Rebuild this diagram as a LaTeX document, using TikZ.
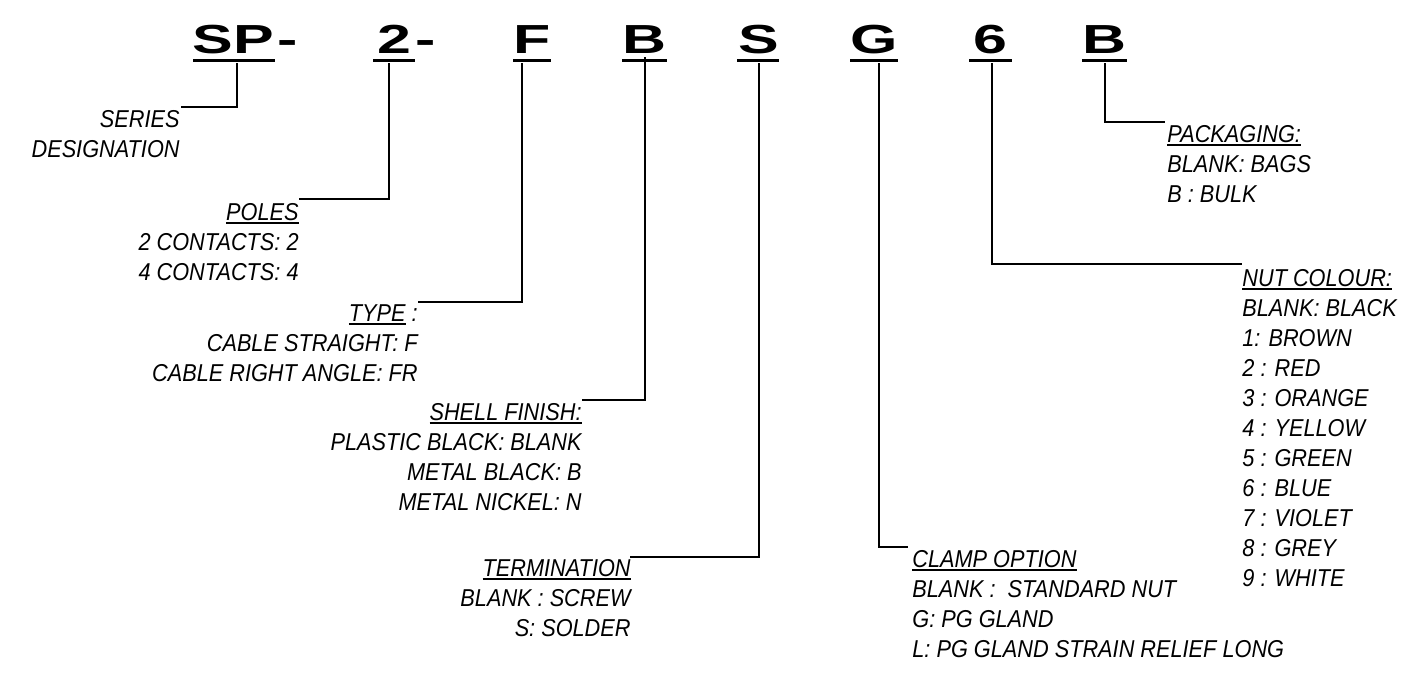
\documentclass[tikz,border=0pt]{standalone}
\usepackage{fontspec}
\newfontfamily\lblfont{Liberation Sans}[FakeStretch=0.89]
\newfontfamily\bigfont{Liberation Sans}[FakeStretch=1.5]
\newsavebox\hulbox
\newcommand\hul[1]{\sbox\hulbox{#1}\rlap{\rule[-2pt]{\wd\hulbox}{1pt}}\usebox\hulbox}
\begin{document}
\begin{tikzpicture}[x=0.5pt,y=-0.5pt,
  letter/.style={inner sep=0pt,anchor=base,font=\bigfont\bfseries\fontsize{20.3}{24}\selectfont},
  lbl/.style={inner sep=0pt,font=\lblfont\itshape\fontsize{12.2}{15}\selectfont},
  lblr/.style={lbl,align=right,anchor=north east},
  lbll/.style={lbl,align=left,anchor=north west},
  conn/.style={line width=1.1pt},
  bar/.style={line width=1.5pt}]
\useasboundingbox (0,0) rectangle (1414,675);
% code letters
\node[letter] (lSP) at (233,53) {SP};
\node[letter] (lD1) at (288,53) {-};
\node[letter] (l2) at (394,53) {2};
\node[letter] (lD2) at (426,53) {-};
\node[letter] (lF) at (532,53) {F};
\node[letter] (lB1) at (644,53) {B};
\node[letter] (lS) at (759,53) {S};
\node[letter] (lG) at (874,53) {G};
\node[letter] (l6) at (990,53) {6};
\node[letter] (lB2) at (1104,53) {B};
% underlines under letters
\draw[bar] (193,60) -- (275,60);
\draw[bar] (373,60) -- (415,60);
\draw[bar] (513,60) -- (551,60);
\draw[bar] (622,60) -- (667,60);
\draw[bar] (737,60) -- (779,60);
\draw[bar] (850,60) -- (898,60);
\draw[bar] (969,60) -- (1012,60);
\draw[bar] (1082,60) -- (1127,60);
% labels
\node[lblr] (nSeries) at (180,110) {SERIES\\DESIGNATION};
\node[lblr] (nPoles) at (299,203) {\hul{POLES}\\2 CONTACTS: 2\\4 CONTACTS: 4};
\node[lblr] (nType) at (418,304) {\hul{TYPE} :\\CABLE STRAIGHT: F\\CABLE RIGHT ANGLE: FR};
\node[lblr] (nShell) at (582,403) {\hul{SHELL FINISH:}\\PLASTIC BLACK: BLANK\\METAL BLACK: B\\METAL NICKEL: N};
\node[lblr] (nTerm) at (631,559) {\hul{TERMINATION}\\BLANK : SCREW\\S: SOLDER};
\node[lbll] (nClamp) at (912,550) {\hul{CLAMP OPTION}\\BLANK :\ \ STANDARD NUT\\G: PG GLAND\\L: PG GLAND STRAIN RELIEF LONG};
\node[lbll] (nPack) at (1167,125) {\hul{PACKAGING:}\\BLANK: BAGS\\B : BULK};
\node[lbll] (nNut) at (1242,269) {\hul{NUT COLOUR:}\\BLANK: BLACK\\1: BROWN\\2 : RED\\3 : ORANGE\\4 : YELLOW\\5 : GREEN\\6 : BLUE\\7 : VIOLET\\8 : GREY\\9 : WHITE};
% connector ends
\coordinate (t1) at (237,63);   \coordinate (e1) at (181,107);
\coordinate (t2) at (389,63);   \coordinate (e2) at (299,199);
\coordinate (t3) at (522,63);   \coordinate (e3) at (418,302);
\coordinate (t4) at (645,57);   \coordinate (e4) at (582,400);
\coordinate (t5) at (759,63);   \coordinate (e5) at (630,557);
\coordinate (t6) at (879,63);   \coordinate (e6) at (908,547);
\coordinate (t7) at (992,63);   \coordinate (e7) at (1242,264);
\coordinate (t8) at (1105,63);  \coordinate (e8) at (1165,122);
\draw[conn] (t1) |- (e1);
\draw[conn] (t2) |- (e2);
\draw[conn] (t3) |- (e3);
\draw[conn] (t4) |- (e4);
\draw[conn] (t5) |- (e5);
\draw[conn] (t6) |- (e6);
\draw[conn] (t7) |- (e7);
\draw[conn] (t8) |- (e8);
\end{tikzpicture}
\end{document}
